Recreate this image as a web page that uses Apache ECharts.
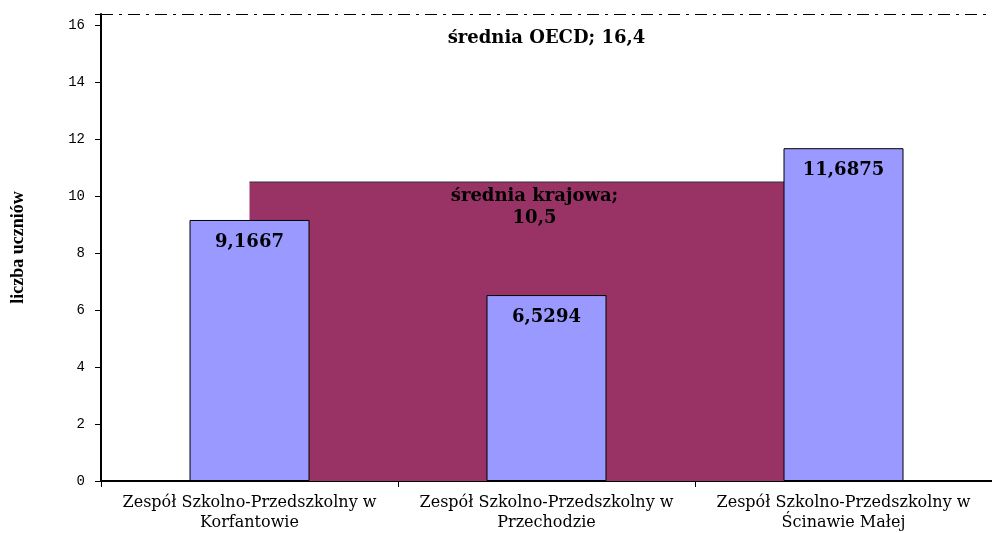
<!DOCTYPE html>
<html>
<head>
<meta charset="utf-8">
<script src="https://cdn.jsdelivr.net/npm/echarts@6/dist/echarts.min.js"></script>
<style>
  html, body { margin: 0; padding: 0; background: #fff; }
  #main { width: 992px; height: 533px; }
</style>
</head>
<body>
<div id="main"></div>
<script>
  var szkoly = [
    'Zespół Szkolno-Przedszkolny w\nKorfantowie',
    'Zespół Szkolno-Przedszkolny w\nPrzechodzie',
    'Zespół Szkolno-Przedszkolny w\nŚcinawie Małej'
  ];
  var uczniowie = [9.1667, 6.5294, 11.6875];
  var sredniaKrajowa = [10.5, 10.5, 10.5];
  var sredniaOECD = 16.4;

  var serif = '"DejaVu Serif", "Liberation Serif", serif';

  function przecinek(v) {
    return String(v).replace('.', ',');
  }

  var option = {
    backgroundColor: '#fff',
    animation: false,
    grid: { left: 101, right: 0, top: 14, bottom: 49 },
    xAxis: {
      type: 'category',
      data: szkoly,
      boundaryGap: true,
      axisLine: { lineStyle: { color: '#000', width: 2 } },
      axisTick: { show: true, interval: 0, length: 6, lineStyle: { color: '#000' } },
      axisLabel: {
        interval: 0,
        color: '#000',
        fontFamily: serif,
        fontSize: 16,
        lineHeight: 20,
        margin: 12
      }
    },
    yAxis: {
      type: 'value',
      min: 0,
      max: sredniaOECD,
      interval: 2,
      name: 'liczba uczniów',
      nameLocation: 'middle',
      nameGap: 74,
      nameTextStyle: { color: '#000', fontFamily: '"Liberation Serif", serif', fontSize: 18, fontWeight: 'bold' },
      axisLine: { show: true, lineStyle: { color: '#000', width: 2 } },
      axisTick: { show: true, length: 6, lineStyle: { color: '#000' } },
      axisLabel: {
        color: '#000',
        fontFamily: '"Liberation Mono", monospace',
        fontSize: 14,
        margin: 16,
        formatter: function (v) { return v % 2 === 0 ? v : ''; }
      },
      splitLine: { show: false }
    },
    series: [
      {
        name: 'średnia krajowa',
        type: 'line',
        data: sredniaKrajowa,
        symbol: 'circle',
        symbolSize: 0,
        z: 1,
        lineStyle: { color: '#333', width: 1 },
        itemStyle: { color: '#333' },
        areaStyle: { color: '#993366', opacity: 1 },
        label: {
          show: true,
          position: 'bottom',
          distance: 3,
          offset: [-12, 0],
          color: '#000',
          fontFamily: serif,
          fontSize: 18,
          fontWeight: 'bold',
          lineHeight: 22,
          formatter: function (p) {
            return p.dataIndex === 1 ? 'średnia krajowa;\n' + przecinek(p.value) : '';
          }
        }
      },
      {
        name: 'liczba uczniów',
        type: 'bar',
        data: uczniowie,
        barWidth: 120,
        z: 3,
        itemStyle: { color: '#9999FF', borderColor: '#000', borderWidth: 1 },
        label: {
          show: true,
          position: 'insideTop',
          distance: 13,
          color: '#000',
          fontFamily: serif,
          fontSize: 18,
          fontWeight: 'bold',
          formatter: function (p) { return przecinek(p.value); }
        },
        markLine: {
          symbol: 'none',
          silent: true,
          lineStyle: { color: '#000', width: 1, type: [12, 6, 3, 6] },
          label: {
            show: true,
            position: 'insideMiddleBottom',
            distance: 15,
            color: '#000',
            fontFamily: serif,
            fontSize: 18,
            fontWeight: 'bold',
            formatter: function () { return 'średnia OECD; ' + przecinek(sredniaOECD); }
          },
          data: [{ yAxis: sredniaOECD }]
        }
      }
    ]
  };

  var myChart = echarts.init(document.getElementById('main'));
  myChart.setOption(option);
</script>
</body>
</html>
